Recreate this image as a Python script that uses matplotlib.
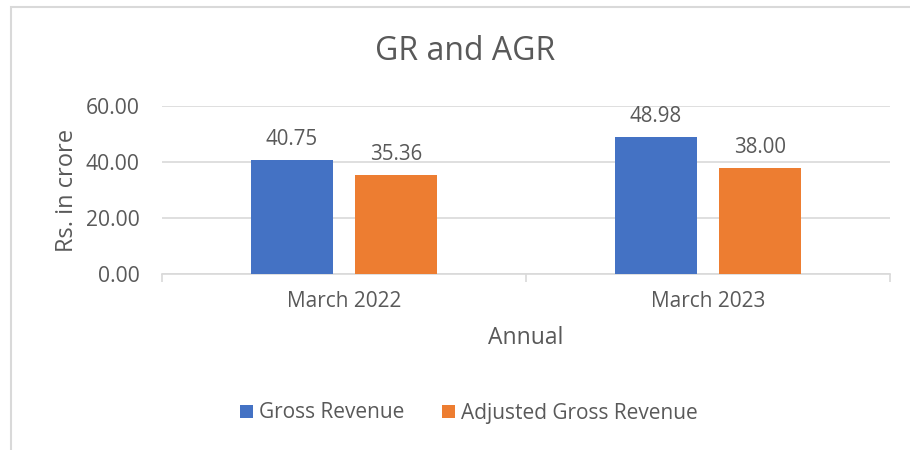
import matplotlib.pyplot as plt
import numpy as np
from matplotlib.patches import Rectangle

categories = ["March 2022", "March 2023"]
gross_revenue = [40.75, 48.98]
adjusted_gross_revenue = [35.36, 38.00]
y_ticks = [0, 20, 40, 60]

BLUE = "#4472C4"
ORANGE = "#ED7D31"
TEXT = "#595959"
GRID = "#D9D9D9"

plt.rcParams["font.family"] = ["Open Sans", "DejaVu Sans"]

fig = plt.figure(figsize=(9.1, 4.5), dpi=100)

# chart border (cut off on the right and bottom like the screenshot)
fig.patches.append(Rectangle((11 / 910, -0.1), 1.0, 1 - 7 / 450 + 0.1,
                             transform=fig.transFigure, fill=False,
                             edgecolor=GRID, linewidth=1.5))

ax = fig.add_axes([162 / 910, 1 - 274 / 450, (890 - 162) / 910, (274 - 106) / 450])

x = np.arange(len(categories))
w = 0.225
off = 0.143
b1 = ax.bar(x - off, gross_revenue, w, color=BLUE, label="Gross Revenue", zorder=3)
b2 = ax.bar(x + off, adjusted_gross_revenue, w, color=ORANGE, label="Adjusted Gross Revenue", zorder=3)

for bars in (b1, b2):
    for r in bars:
        ax.annotate(f"{r.get_height():.2f}", (r.get_x() + r.get_width() / 2, r.get_height()),
                    xytext=(0, 7), textcoords="offset points", ha="center", va="bottom",
                    fontsize=14.8, color=TEXT)

ax.set_xlim(-0.5, 1.5)
ax.set_ylim(0, 60)
ax.set_yticks(y_ticks)
ax.set_yticklabels([f"{v:.2f}" for v in y_ticks], fontsize=15.2, color=TEXT)
ax.tick_params(axis="y", length=0, pad=16)
ax.yaxis.grid(True, color=GRID, linewidth=1.2, zorder=0)

ax.set_xticks([-0.5, 0.5, 1.5])
ax.set_xticklabels([])
ax.set_xticks(x, minor=True)
ax.set_xticklabels(categories, minor=True, fontsize=15, color=TEXT)
ax.tick_params(axis="x", which="major", length=6, color=GRID, width=1.2)
ax.tick_params(axis="x", which="minor", length=0, pad=12)

for s in ("top", "right", "left"):
    ax.spines[s].set_visible(False)
ax.spines["bottom"].set_color(GRID)
ax.spines["bottom"].set_linewidth(1.2)

ax.set_xlabel("Annual", fontsize=16.5, color=TEXT, labelpad=10)
ax.set_ylabel("Rs. in crore", fontsize=17, color=TEXT, labelpad=5)

fig.text(465 / 910, 1 - 52 / 450, "GR and AGR", ha="center", va="center",
         fontsize=23, color=TEXT)

fig.legend(handles=[b1, b2], loc="center", bbox_to_anchor=(469 / 910, 1 - 413 / 450),
           ncol=2, frameon=False, fontsize=15, labelcolor=TEXT,
           handlelength=0.6, handleheight=0.6, handletextpad=0.3, columnspacing=1.8)

fig.savefig("out.png", dpi=100)
